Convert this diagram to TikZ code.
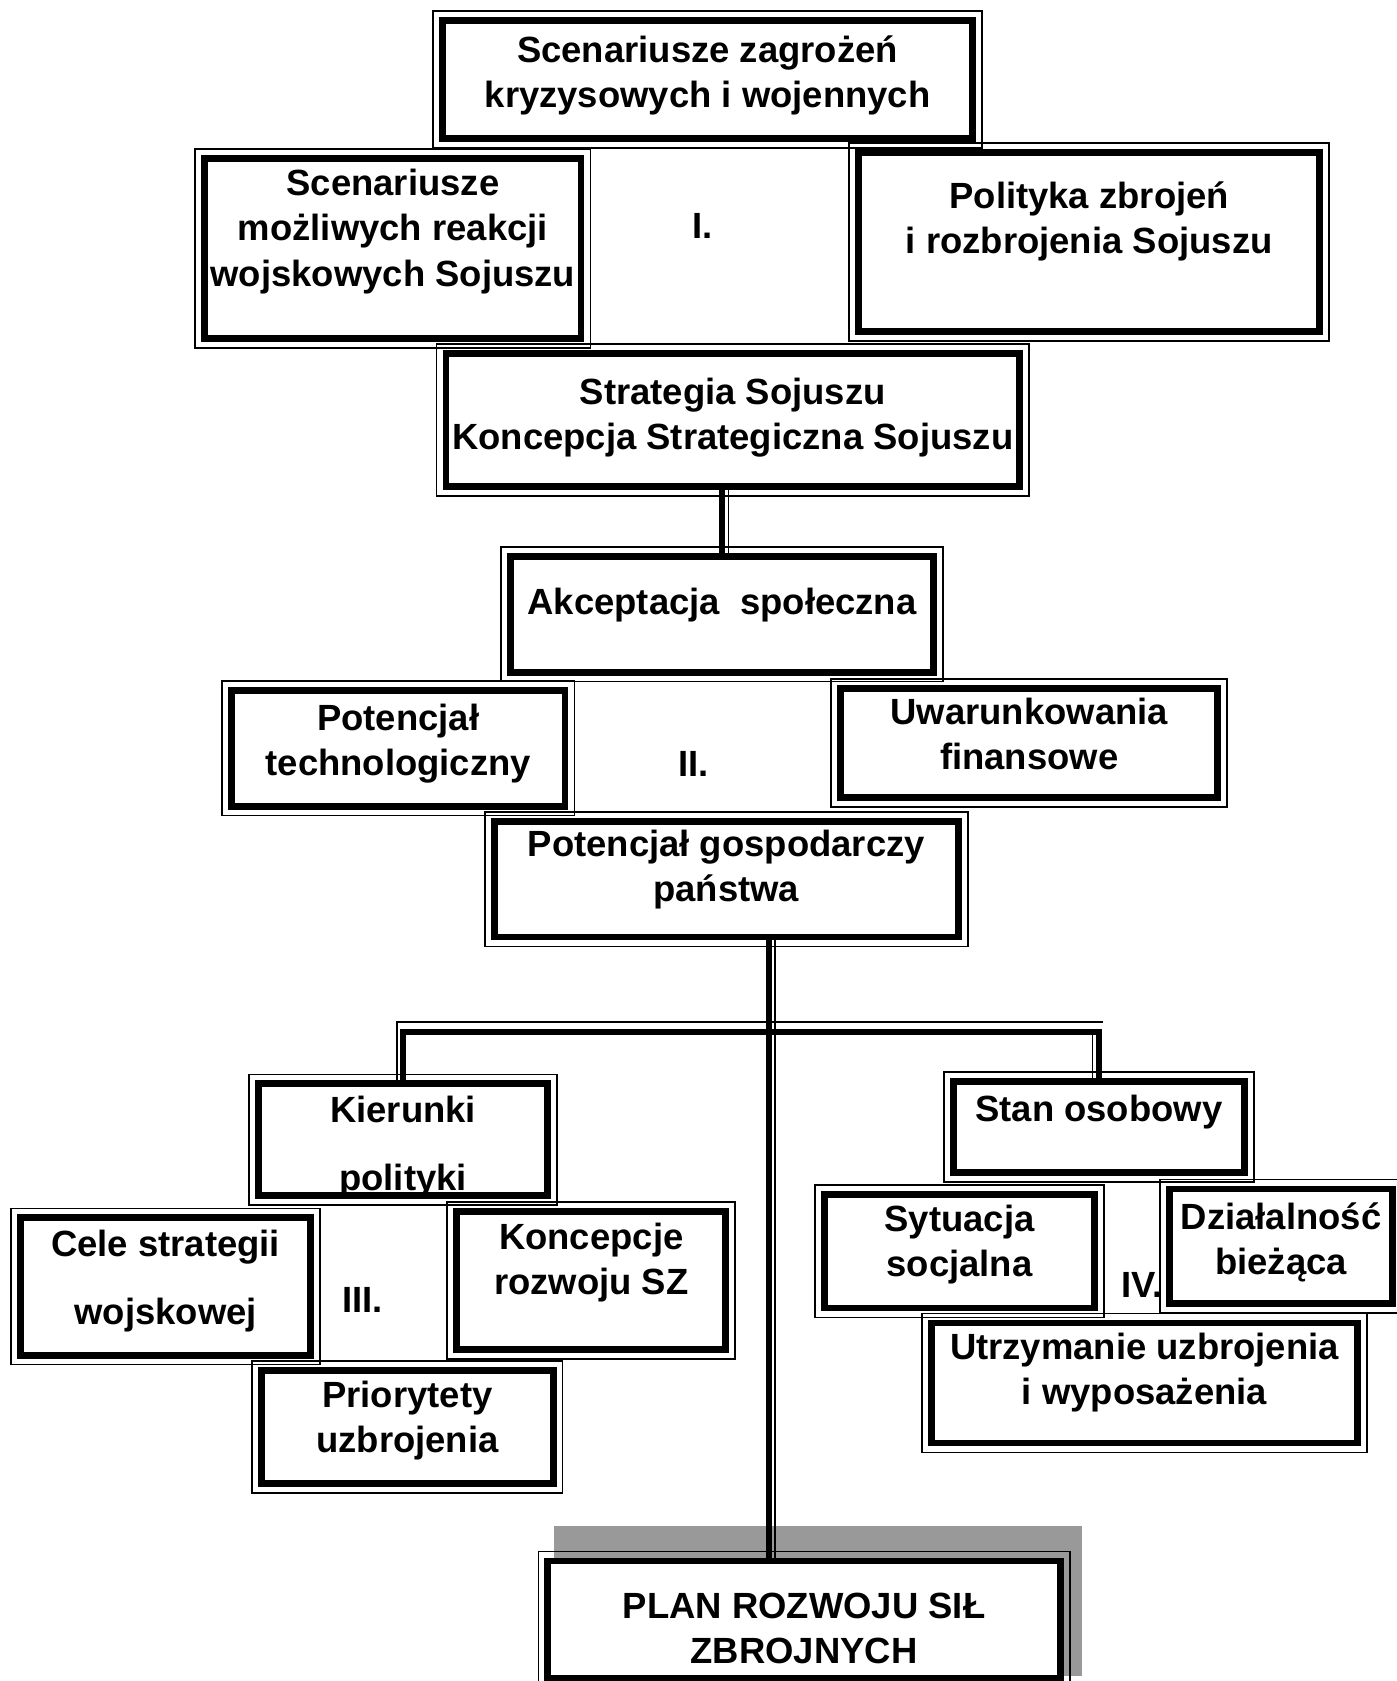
\documentclass[tikz,border=0pt]{standalone}
\usepackage{fontspec}
\setmainfont{Liberation Sans}
\usetikzlibrary{positioning,backgrounds,calc}
\tikzstyle{frbox}=[rectangle, draw=black, fill=white, line width=3.2pt, inner sep=0pt]
\tikzstyle{outframe}=[draw=black, line width=0.8pt]
\tikzstyle{boxtext}=[inner sep=0pt, align=center, font=\fontsize{17pt}{21pt}\selectfont\bfseries]
\tikzstyle{linkbar}=[-, line width=2.8pt]
\tikzstyle{linkthin}=[-, line width=0.8pt]
\newcommand\frnode[5][]{
            \node (#2) [frbox, #1] at (#3) {};
            \draw[outframe] ([shift={(-2.8pt,2.8pt)}]#2.north west) rectangle ([shift={(2.8pt,-2.8pt)}]#2.south east);
            \node ({#2}t) [boxtext] at ([yshift=#4]#2.center) {#5};
        }
\begin{document}
\begin{tikzpicture}[x=0.5pt, y=-0.5pt]

    \useasboundingbox (0,0) rectangle (1303,1568);

% I. scenariusze
    \frnode[minimum width=247pt, minimum height=55pt]{scen}{660,74}{2pt}{Scenariusze zagrożeń\\kryzysowych i wojennych}
    \frnode[minimum width=175.5pt, minimum height=84pt]{reakcje}{366.5,232}{8pt}{Scenariusze\\możliwych reakcji\\wojskowych Sojuszu}
    \frnode[minimum width=215pt, minimum height=83.5pt]{polityka}{1016,225.5}{9.5pt}{Polityka zbrojeń\\i rozbrojenia Sojuszu}
    \frnode[minimum width=267.5pt, minimum height=62pt]{strategia}{683.5,392}{1pt}{Strategia Sojuszu\\Koncepcja Strategiczna Sojuszu}
    \node (cI) [boxtext] at (655,211) {I.};

% II. potencjal
    \frnode[minimum width=197.5pt, minimum height=54pt]{akcept}{673.5,573}{4.5pt}{Akceptacja~~społeczna}
    \frnode[minimum width=155.5pt, minimum height=54pt]{techn}{371.5,698}{2pt}{Potencjał\\technologiczny}
    \frnode[minimum width=176pt, minimum height=51pt]{finanse}{960,693}{4pt}{Uwarunkowania\\finansowe}
    \frnode[minimum width=216.5pt, minimum height=54pt]{gosp}{677.5,820}{4.5pt}{Potencjał gospodarczy\\państwa}
    \node (cII) [boxtext] at (647,713) {II.};

% III. kierunki
    \frnode[minimum width=135pt, minimum height=52pt]{kier}{376,1063}{-3.5pt}{Kierunki\\[11pt]polityki}
    \frnode[minimum width=135.5pt, minimum height=64pt]{cele}{154.5,1200}{2.5pt}{Cele strategii\\[11pt]wojskowej}
    \frnode[minimum width=125.5pt, minimum height=64.5pt]{konc}{551.5,1194.5}{8.5pt}{Koncepcje\\rozwoju SZ}
    \frnode[minimum width=136pt, minimum height=53pt]{prior}{380,1331}{3pt}{Priorytety\\uzbrojenia}
    \node (cIII) [boxtext] at (338,1213) {III.};

% IV. stan osobowy
    \frnode[minimum width=136pt, minimum height=42.5pt]{stan}{1025,1051.5}{7pt}{Stan osobowy}
    \frnode[minimum width=126pt, minimum height=53pt]{socjal}{895,1167}{3pt}{Sytuacja\\socjalna}
    \frnode[minimum width=104pt, minimum height=53.5pt]{dzial}{1195,1162.5}{2pt}{Działalność\\bieżąca}
    \frnode[minimum width=198.5pt, minimum height=56pt]{utrzym}{1067.5,1290}{5pt}{Utrzymanie uzbrojenia\\i wyposażenia}
    \node (cIV) [boxtext] at (1065,1199) {IV.};

% plan
    \frnode[minimum width=239pt, minimum height=55pt]{plan}{750,1511}{-4pt}{PLAN ROZWOJU SIŁ\\ZBROJNYCH}
    \begin{scope}[on background layer]
    \fill[black!40] ([shift={(4.5pt,14.5pt)}]plan.north west) rectangle ([shift={(8.5pt,3pt)}]plan.south east);
    \end{scope}

%connectors
    \coordinate (hub) at (717,963);
    \coordinate (se) at (akcept.north |- strategia.south);
    \draw[linkbar] (akcept.north) -- (se);
    \draw[linkthin] ([xshift=3pt]akcept.north) -- ([xshift=3pt]se);

    \coordinate (gtop) at (gosp.south -| hub);
    \coordinate (pbot) at (plan.north -| hub);
    \draw[linkbar] (gtop) -- (pbot);
    \draw[linkthin] ([xshift=3pt]gtop) -- ([xshift=3pt]pbot);

    \coordinate (barl) at (kier.north |- hub);
    \coordinate (barr) at (stan.north |- hub);
    \draw[linkbar] (kier.north) -- (barl) -- (barr) -- (stan.north);
    \draw[linkthin] ([xshift=-3pt]kier.north) -- ([shift={(-3pt,5pt)}]barl) -- ([shift={(2pt,5pt)}]barr);
    \draw[linkthin] ([xshift=-3pt]stan.north) -- ([xshift=-3pt]barr);

\end{tikzpicture}
\end{document}
